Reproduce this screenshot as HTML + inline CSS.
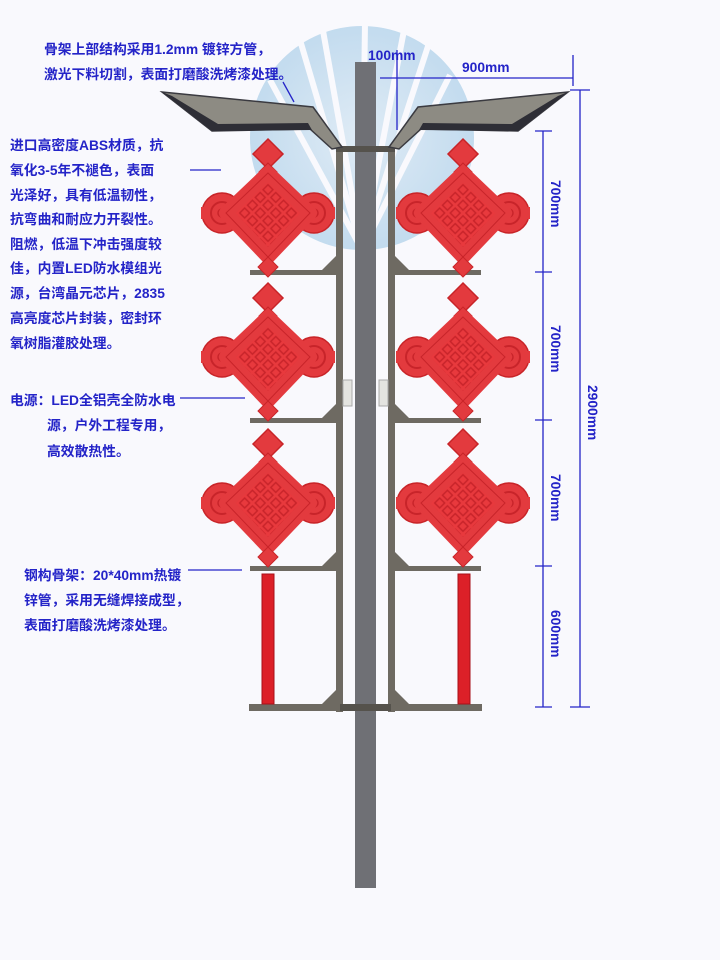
<!DOCTYPE html>
<html><head><meta charset="utf-8"><style>
body{margin:0;background:#f9f9fd;}
svg{display:block}
text{font-family:"Liberation Sans","Noto Sans CJK SC",sans-serif;font-weight:bold;fill:#2424c8;font-size:13.8px}
</style></head><body>
<svg width="720" height="960" viewBox="0 0 720 960" xmlns="http://www.w3.org/2000/svg">
<defs>
<radialGradient id="fan" cx="0.5" cy="0.5" r="0.5">
<stop offset="0" stop-color="#dbe9f4"/><stop offset="1" stop-color="#b9d6ec"/>
</radialGradient>
<pattern id="grid" width="11" height="11" patternUnits="userSpaceOnUse" patternTransform="rotate(45)">
<rect width="11" height="11" fill="#e8393d"/>
<rect x="2" y="2" width="7" height="7" fill="none" stroke="#c8242a" stroke-width="1.5"/>
</pattern>
<g id="knot">
<path d="M0,-74 L15,-59 L0,-44 L-15,-59Z" fill="#e33a3e" stroke="#c82428" stroke-width="1.5"/>
<path d="M0,-50 L9,-41 L0,-32 L-9,-41Z" fill="#e33a3e" stroke="#c82428"/>
<circle cx="-46" cy="0" r="20" fill="#e33a3e" stroke="#c82428" stroke-width="1.5"/>
<circle cx="46" cy="0" r="20" fill="#e33a3e" stroke="#c82428" stroke-width="1.5"/>
<circle cx="-46" cy="0" r="11" fill="none" stroke="#c8242a" stroke-width="2"/>
<circle cx="46" cy="0" r="11" fill="none" stroke="#c8242a" stroke-width="2"/>
<circle cx="-46" cy="0" r="4" fill="none" stroke="#c8242a" stroke-width="1.5"/>
<circle cx="46" cy="0" r="4" fill="none" stroke="#c8242a" stroke-width="1.5"/>
<rect x="-67" y="-6" width="4" height="12" fill="#e33a3e"/>
<rect x="63" y="-6" width="4" height="12" fill="#e33a3e"/>
<path d="M0,-40 L42,0 L0,44 L-42,0Z" fill="url(#grid)" stroke="#e33a3e" stroke-width="14" stroke-linejoin="round"/>
<path d="M0,-40 L42,0 L0,44 L-42,0Z" fill="none" stroke="#c8242a" stroke-width="1"/>
<path d="M0,44 L10,54 L0,64 L-10,54Z" fill="#e33a3e" stroke="#c82428"/>
</g>
</defs>

<!-- fan -->
<circle cx="362" cy="138" r="112" fill="url(#fan)" opacity="0.85"/>
<g stroke="#f9f9fd" stroke-width="6">
<line x1="362" y1="250" x2="322" y2="25"/>
<line x1="362" y1="250" x2="365" y2="22"/>
<line x1="362" y1="250" x2="405" y2="25"/>
<line x1="362" y1="250" x2="270" y2="80"/>
<line x1="362" y1="250" x2="450" y2="75"/>
<line x1="362" y1="250" x2="300" y2="40"/>
<line x1="362" y1="250" x2="430" y2="40"/>
</g>
<rect x="240" y="250" width="250" height="30" fill="#f9f9fd"/>

<!-- frame -->
<g fill="#6e6a62">
<rect x="336" y="148" width="7" height="564"/>
<rect x="388" y="148" width="7" height="564"/>
<rect x="250" y="270" width="93" height="5"/><rect x="388" y="270" width="93" height="5"/>
<rect x="250" y="418" width="93" height="5"/><rect x="388" y="418" width="93" height="5"/>
<rect x="250" y="566" width="93" height="5"/><rect x="388" y="566" width="93" height="5"/>
<rect x="249" y="704" width="94" height="7"/><rect x="388" y="704" width="94" height="7"/>
<path d="M322,270 L336,256 L336,275Z"/><path d="M409,270 L395,256 L395,275Z"/>
<path d="M322,418 L336,404 L336,423Z"/><path d="M409,418 L395,404 L395,423Z"/>
<path d="M322,566 L336,552 L336,571Z"/><path d="M409,566 L395,552 L395,571Z"/>
<path d="M322,704 L336,690 L336,711Z"/><path d="M409,704 L395,690 L395,711Z"/>
</g>
<rect x="343" y="380" width="9" height="26" fill="#e4e4e0" stroke="#aaa"/>
<rect x="379" y="380" width="9" height="26" fill="#e4e4e0" stroke="#aaa"/>

<!-- red posts -->
<rect x="262" y="574" width="12" height="130" fill="#dc2028" stroke="#a81018"/>
<rect x="458" y="574" width="12" height="130" fill="#dc2028" stroke="#a81018"/>

<!-- knots -->
<use href="#knot" x="268" y="213"/>
<use href="#knot" x="463" y="213"/>
<use href="#knot" x="268" y="357"/>
<use href="#knot" x="463" y="357"/>
<use href="#knot" x="268" y="503"/>
<use href="#knot" x="463" y="503"/>

<!-- pole -->
<rect x="355" y="62" width="21" height="826" fill="#6f7075"/>
<rect x="336" y="146" width="59" height="6" fill="#55524c"/>
<rect x="340" y="704" width="51" height="7" fill="#55524c"/>

<!-- roofs -->
<path d="M162,92 L313,107 L342,147 L332,149 L310,129 L212,131 Z" fill="#8d8b83" stroke="#3a3a40" stroke-width="1.5"/>
<path d="M162,92 L172,96 L218,124 L308,123 L312,130 L212,131 Z" fill="#2e2e36"/>
<path d="M568,92 L418,107 L389,147 L399,149 L421,129 L518,131 Z" fill="#8d8b83" stroke="#3a3a40" stroke-width="1.5"/>
<path d="M568,92 L558,96 L512,124 L423,123 L419,130 L518,131 Z" fill="#2e2e36"/>

<!-- dimension lines -->
<g stroke="#2424c8" stroke-width="1.3" fill="none">
<line x1="397" y1="50" x2="397" y2="130"/>
<line x1="380" y1="78" x2="573" y2="78"/>
<line x1="573" y1="55" x2="573" y2="86"/>
<line x1="580" y1="90" x2="580" y2="707"/>
<line x1="570" y1="90" x2="590" y2="90"/>
<line x1="570" y1="707" x2="590" y2="707"/>
<line x1="543" y1="131" x2="543" y2="707"/>
<line x1="535" y1="131" x2="552" y2="131"/>
<line x1="535" y1="272" x2="552" y2="272"/>
<line x1="535" y1="420" x2="552" y2="420"/>
<line x1="535" y1="566" x2="552" y2="566"/>
<line x1="535" y1="707" x2="552" y2="707"/>
<line x1="283" y1="82" x2="294" y2="102"/>
<line x1="190" y1="170" x2="221" y2="170"/>
<line x1="180" y1="398" x2="245" y2="398"/>
<line x1="188" y1="570" x2="242" y2="570"/>
</g>
<text x="368" y="60">100mm</text>
<text x="462" y="72">900mm</text>
<text transform="translate(551,180) rotate(90)">700mm</text>
<text transform="translate(551,325) rotate(90)">700mm</text>
<text transform="translate(551,474) rotate(90)">700mm</text>
<text transform="translate(551,610) rotate(90)">600mm</text>
<text transform="translate(588,385) rotate(90)">2900mm</text>

<text x="44" y="54">骨架上部结构采用1.2mm 镀锌方管，</text>
<text x="44" y="79">激光下料切割，表面打磨酸洗烤漆处理。</text>
<text x="10" y="150">进口高密度ABS材质，抗</text>
<text x="10" y="175">氧化3-5年不褪色，表面</text>
<text x="10" y="200">光泽好，具有低温韧性，</text>
<text x="10" y="224">抗弯曲和耐应力开裂性。</text>
<text x="10" y="249">阻燃，低温下冲击强度较</text>
<text x="10" y="273">佳，内置LED防水模组光</text>
<text x="10" y="298">源，台湾晶元芯片，2835</text>
<text x="10" y="323">高亮度芯片封装，密封环</text>
<text x="10" y="348">氧树脂灌胶处理。</text>
<text x="10" y="405">电源：LED全铝壳全防水电</text>
<text x="47" y="430">源，户外工程专用，</text>
<text x="47" y="456">高效散热性。</text>
<text x="24" y="580">钢构骨架：20*40mm热镀</text>
<text x="24" y="605">锌管，采用无缝焊接成型，</text>
<text x="24" y="630">表面打磨酸洗烤漆处理。</text>
</svg>
</body></html>
